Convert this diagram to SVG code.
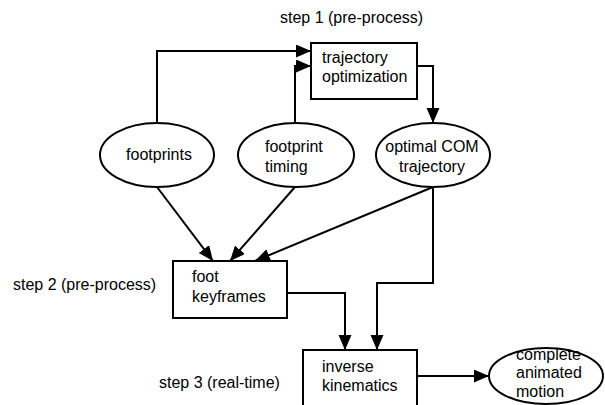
<svg xmlns="http://www.w3.org/2000/svg" width="605" height="405" viewBox="0 0 605 405">
<style>
text{font-family:"Liberation Sans",Arial,sans-serif;font-size:16px;fill:#000}
.n{fill:#fff;stroke:#000;stroke-width:2}
.e{fill:none;stroke:#000;stroke-width:2}
.c{text-anchor:middle}
</style>
<defs>
<marker id="ah" markerUnits="userSpaceOnUse" markerWidth="16" markerHeight="14" refX="15" refY="6.5" orient="auto">
<path d="M0,0 L15,6.5 L0,13 z" fill="#000"/>
</marker>
</defs>
<rect width="605" height="405" fill="#fff"/>
<g id="labels">
<text x="280" y="23">step 1 (pre-process)</text>
<text x="13" y="290">step 2 (pre-process)</text>
<text x="159" y="388">step 3 (real-time)</text>
</g>
<g id="connectors">
<path class="e" d="M157,123 V51 H311" marker-end="url(#ah)"/>
<path class="e" d="M295,123 V66 H311" marker-end="url(#ah)"/>
<path class="e" d="M417,66 H433 V123" marker-end="url(#ah)"/>
<path class="e" d="M157,187 L213,261" marker-end="url(#ah)"/>
<path class="e" d="M295,187 L230,261" marker-end="url(#ah)"/>
<path class="e" d="M433,187 L255,261" marker-end="url(#ah)"/>
<path class="e" d="M433,187 V283 H377 V350" marker-end="url(#ah)"/>
<path class="e" d="M287,293 H345 V350" marker-end="url(#ah)"/>
<path class="e" d="M417,376 H489" marker-end="url(#ah)"/>
</g>
<g id="trajectory-optimization">
<rect class="n" x="311" y="43" width="106" height="56"/>
<text x="322" y="63">trajectory</text>
<text x="322" y="82">optimization</text>
</g>
<g id="footprints">
<ellipse class="n" cx="157" cy="155" rx="57" ry="32"/>
<text class="c" x="159" y="160">footprints</text>
</g>
<g id="footprint-timing">
<ellipse class="n" cx="296" cy="155" rx="58" ry="32"/>
<text x="265" y="152">footprint</text>
<text x="265" y="172">timing</text>
</g>
<g id="optimal-com-trajectory">
<ellipse class="n" cx="433" cy="155" rx="57" ry="32"/>
<text class="c" x="432" y="152">optimal COM</text>
<text class="c" x="432" y="172">trajectory</text>
</g>
<g id="foot-keyframes">
<rect class="n" x="173" y="261" width="114" height="57"/>
<text x="192" y="282">foot</text>
<text x="192" y="302">keyframes</text>
</g>
<g id="inverse-kinematics">
<rect class="n" x="303" y="350" width="114" height="70"/>
<text x="322" y="372">inverse</text>
<text x="322" y="391">kinematics</text>
</g>
<g id="complete-animated-motion">
<ellipse class="n" cx="546" cy="376" rx="57" ry="28"/>
<text x="516" y="360">complete</text>
<text x="516" y="378">animated</text>
<text x="516" y="397">motion</text>
</g>
</svg>
